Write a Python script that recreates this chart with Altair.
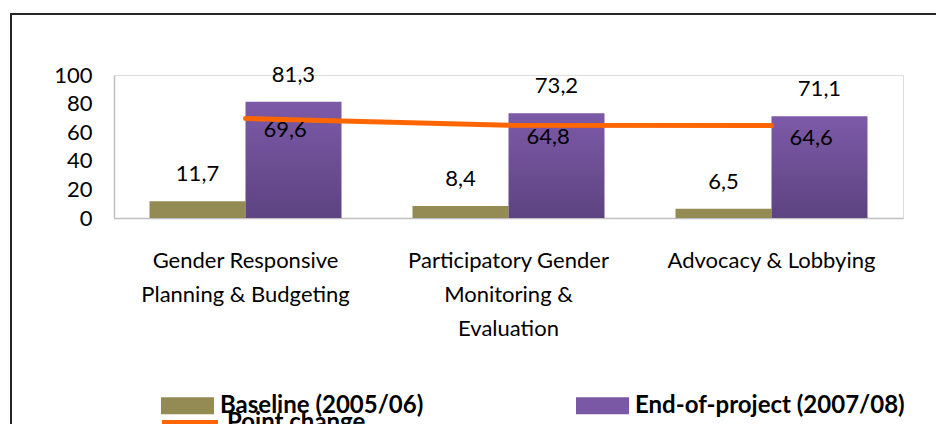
import altair as alt
import pandas as pd

categories = ["Gender Responsive|Planning & Budgeting",
              "Participatory Gender|Monitoring &|Evaluation",
              "Advocacy & Lobbying"]
series = ["Baseline (2005/06)", "End-of-project (2007/08)"]
baseline = [11.7, 8.4, 6.5]
end_project = [81.3, 73.2, 71.1]
point_change = [69.6, 64.8, 64.6]
line_label = "Point change"

bars = pd.DataFrame(
    [{"cat": c, "series": series[0], "value": v} for c, v in zip(categories, baseline)]
    + [{"cat": c, "series": series[1], "value": v} for c, v in zip(categories, end_project)]
)
line_df = pd.DataFrame({"cat": categories, "value": point_change, "lbl": [line_label] * 3})

FONT = "Lato"
OLIVE = "#948A54"
PURPLE = "#7B58A5"
ORANGE = "#FF6600"

x_enc = alt.X("cat:N", sort=categories,
              scale=alt.Scale(domain=categories, paddingInner=0.27, paddingOuter=0.135),
              axis=alt.Axis(title=None, labelAngle=0, ticks=False, tickSize=0,
                            labelExpr="split(datum.label, '|')",
                            labelFont=FONT, labelFontSize=22, labelColor="#000000",
                            labelLineHeight=34, labelPadding=32, labelLimit=400,
                            domainColor="#BFBFBF", domainWidth=1.5))
y_enc = alt.Y("value:Q", scale=alt.Scale(domain=[0, 100]),
              axis=alt.Axis(title=None, values=[0, 20, 40, 60, 80, 100], grid=False,
                            ticks=False, tickSize=0, labelPadding=22,
                            labelFont=FONT, labelFontSize=22, labelColor="#000000",
                            domainColor="#BFBFBF", domainWidth=1.5))
xoff = alt.XOffset("series:N", scale=alt.Scale(domain=series))

base = alt.Chart(bars)

frame = alt.Chart(alt.Data(values=[{}])).mark_rect(
    fill=None, stroke="#262626", strokeWidth=2, clip=False
).encode(x=alt.value(-103), x2=alt.value(1100), y=alt.value(-61), y2=alt.value(600))

bar_base = base.transform_filter(alt.datum.series == series[0]).mark_bar().encode(
    x=x_enc, y=y_enc, xOffset=xoff,
    color=alt.Color("series:N", scale=alt.Scale(domain=series, range=[OLIVE, PURPLE]),
                    legend=alt.Legend(orient="none", legendX=47, legendY=304, columns=2,
                                      columnPadding=152, title=None,
                                      symbolType="M-1,-0.32H1V0.32H-1Z", symbolSize=2809,
                                      symbolStrokeWidth=0, labelFont=FONT, labelFontSize=24,
                                      labelFontWeight="bold", labelColor="#000000",
                                      labelLimit=400, labelOffset=6, padding=0, rowPadding=0))
)

grad = alt.Gradient(gradient="linear", x1=0, x2=0, y1=0, y2=1,
                    stops=[alt.GradientStop(color="#7D5AA8", offset=0),
                           alt.GradientStop(color="#5D4381", offset=1)])
bar_end = base.transform_filter(alt.datum.series == series[1]).mark_bar(fill=grad).encode(
    x=x_enc, y=y_enc, xOffset=xoff
)

bar_text = base.transform_calculate(
    lab="replace(format(datum.value, '.1f'), '.', ',')"
).mark_text(font=FONT, fontSize=22, dy=-20, baseline="alphabetic", color="#000000").encode(
    x=x_enc, y=y_enc, xOffset=xoff, text="lab:N"
)

line = alt.Chart(line_df).mark_line(strokeWidth=5, strokeCap="round").encode(
    x=x_enc, y=y_enc,
    stroke=alt.Stroke("lbl:N", scale=alt.Scale(domain=[line_label], range=[ORANGE]),
                      legend=alt.Legend(orient="none", legendX=45, legendY=317, title=None,
                                        symbolType="stroke", symbolSize=3136,
                                        symbolStrokeWidth=6, labelFont=FONT, labelFontSize=24,
                                        labelFontWeight="bold", labelColor="#000000",
                                        labelOffset=6, padding=0))
)

line_text = alt.Chart(line_df).transform_calculate(
    lab="replace(format(datum.value, '.1f'), '.', ',')"
).mark_text(font=FONT, fontSize=22, dx=18, dy=19, align="left", baseline="alphabetic",
            color="#000000").encode(x=x_enc, y=y_enc, text="lab:N")

chart = alt.layer(frame, bar_base, bar_end, line, bar_text, line_text).properties(
    width=789, height=143,
    autosize=alt.AutoSizeParams(type="none"),
    padding={"left": 106, "top": 67, "right": 33, "bottom": 206},
).configure_view(stroke=None).configure(background="white")

chart.save("out.html", embed_options={"renderer": "svg", "actions": False})
